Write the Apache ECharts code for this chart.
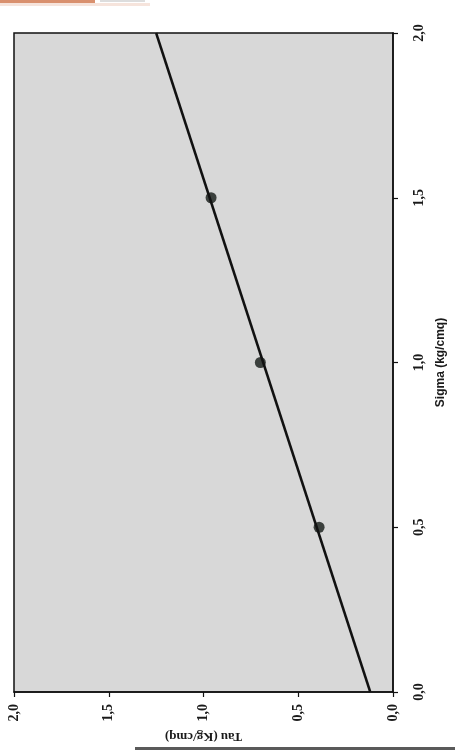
<!DOCTYPE html>
<html>
<head>
<meta charset="utf-8">
<style>
html,body{margin:0;padding:0;background:#ffffff;}
#chart{width:455px;height:752px;}
</style>
<script src="https://cdn.jsdelivr.net/npm/echarts@6/dist/echarts.min.js"></script>
</head>
<body>
<div id="chart"></div>
<script>
// Measured points (sigma on the right-hand axis, tau on the bottom axis)
var sigmaPoints = [0.5, 1.0, 1.5];
var tauPoints = [0.39, 0.70, 0.96];
// Fitted line end points
var lineSigma = [0, 2];
var lineTau = [0.12, 1.25];
// Axis ticks
var tickValues = [0, 0.5, 1.0, 1.5, 2.0];
var sigmaName = 'Sigma (kg/cmq)';
var tauName = 'Tau (Kg/cmq)';

function fmt(v){ return v.toFixed(1).replace('.', ','); }

var chart = echarts.init(document.getElementById('chart'), null, {renderer:'canvas'});
var serif = '"Liberation Serif", "Times New Roman", serif';

var option = {
  backgroundColor: '#ffffff',
  animation: false,
  grid: {
    left: 14, right: 55, top: 33, bottom: 60,
    show: true, backgroundColor: '#d8d8d8', borderColor: '#111111', borderWidth: 1.5
  },
  xAxis: {
    type: 'value', min: tickValues[0], max: tickValues[tickValues.length-1], interval: 0.5,
    inverse: true, position: 'bottom',
    splitLine: {show: false},
    axisLine: {show: true, lineStyle: {color: '#111111', width: 1.5}},
    axisTick: {show: true, inside: false, length: 5, lineStyle: {color: '#111111', width: 1.2}},
    axisLabel: {rotate: 90, margin: 12, formatter: fmt, color: '#1a1a1a',
      fontFamily: serif, fontWeight: 'bold', fontSize: 14},
    name: tauName, nameLocation: 'middle', nameRotate: 180, nameGap: 37,
    nameTextStyle: {color: '#1a1a1a', fontFamily: serif, fontWeight: 'bold', fontSize: 13}
  },
  yAxis: {
    type: 'value', min: tickValues[0], max: tickValues[tickValues.length-1], interval: 0.5,
    position: 'right',
    splitLine: {show: false},
    axisLine: {show: true, lineStyle: {color: '#111111', width: 1.5}},
    axisTick: {show: true, inside: false, length: 5, lineStyle: {color: '#111111', width: 1.2}},
    axisLabel: {rotate: 90, margin: 19, formatter: fmt, color: '#1a1a1a',
      fontFamily: serif, fontWeight: 'bold', fontSize: 14},
    name: sigmaName, nameLocation: 'middle', nameRotate: 90, nameGap: 42,
    nameTextStyle: {color: '#1a1a1a', fontFamily: '"Liberation Sans Narrow", "Liberation Sans", sans-serif', fontWeight: 'bold', fontSize: 12}
  },
  series: [
    {
      type: 'line', symbol: 'none',
      data: lineSigma.map(function(s, i){ return [lineTau[i], s]; }),
      lineStyle: {color: '#111111', width: 2.5}
    },
    {
      type: 'scatter', symbol: 'circle', symbolSize: 11,
      data: sigmaPoints.map(function(s, i){ return [tauPoints[i], s]; }),
      itemStyle: {color: '#141a16'}
    }
  ],
  graphic: [
    {type: 'rect', left: 0, top: 0, shape: {width: 95, height: 3}, style: {fill: '#d9906e'}, silent: true},
    {type: 'rect', left: 0, top: 3, shape: {width: 150, height: 3}, style: {fill: '#f6e4dc'}, silent: true},
    {type: 'rect', left: 100, top: 0, shape: {width: 45, height: 2}, style: {fill: '#dddddd'}, silent: true},
    {type: 'rect', left: 135, top: 747, shape: {width: 320, height: 3}, style: {fill: '#5a5a5a'}, silent: true}
  ]
};
chart.setOption(option);
</script>
</body>
</html>
